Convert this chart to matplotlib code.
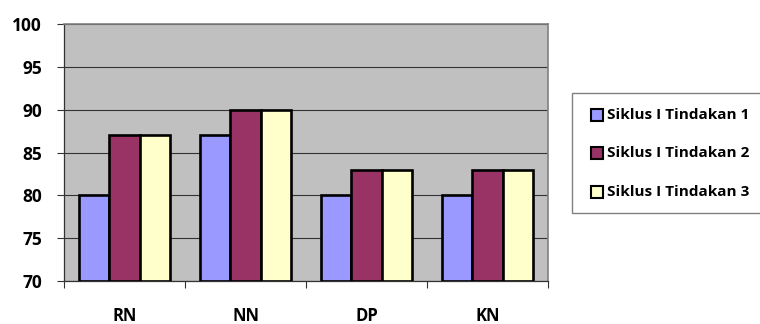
import matplotlib
matplotlib.use("Agg")
import matplotlib.pyplot as plt
import numpy as np
from matplotlib.patches import Rectangle

categories = ["RN", "NN", "DP", "KN"]
series_names = ["Siklus I Tindakan 1", "Siklus I Tindakan 2", "Siklus I Tindakan 3"]
tindakan1 = [80, 87, 80, 80]
tindakan2 = [87, 90, 83, 83]
tindakan3 = [87, 90, 83, 83]
yticks = [70, 75, 80, 85, 90, 95, 100]
colors = ["#9999FF", "#993366", "#FFFFCC"]

plt.rcParams['font.family'] = ['Open Sans', 'DejaVu Sans']

W, H = 760, 324
fig = plt.figure(figsize=(W / 100, H / 100), dpi=100)
ax = fig.add_axes([64 / W, 1 - 281 / H, 484 / W, 257 / H])
ax.set_facecolor("#C0C0C0")

x = np.arange(len(categories))
w = 0.25
for i, (vals, c, name) in enumerate(zip([tindakan1, tindakan2, tindakan3], colors, series_names)):
    ax.bar(x + (i - 1) * w, np.array(vals) - 70, bottom=70, width=w, color=c,
           edgecolor="black", linewidth=1.9, label=name, zorder=3)

ax.set_ylim(70, 100)
ax.set_xlim(-0.5, len(categories) - 0.5)
ax.set_yticks(yticks)
ax.set_yticklabels([str(t) for t in yticks], fontsize=12.5, fontweight='bold')
ax.yaxis.grid(True, color="#333333", linewidth=0.8, zorder=0)
ax.set_axisbelow(True)

ax.set_xticks(np.arange(len(categories) + 1) - 0.5)
ax.set_xticklabels([])
ax.tick_params(axis='x', length=5, width=0.8, color="#333333", direction='out')
ax.tick_params(axis='y', length=5, width=0.8, color="#333333", direction='out', pad=11)
for i, c in enumerate(categories):
    ax.text(i, -0.136, c, transform=ax.get_xaxis_transform(), ha='center', va='center',
            fontsize=12, fontweight='bold')

for s in ['left', 'bottom']:
    ax.spines[s].set_color("#333333")
    ax.spines[s].set_linewidth(0.9)
for s in ['top', 'right']:
    ax.spines[s].set_color("#808080")
    ax.spines[s].set_linewidth(1.2)

# Legend (drawn in figure pixel coordinates)
def fx(px):
    return px / W

def fy(py):
    return 1 - py / H

frame = Rectangle((fx(572), fy(213)), fx(200), (213 - 93) / H, transform=fig.transFigure,
                  facecolor="white", edgecolor="#808080", linewidth=1.0)
fig.patches.append(frame)
row_y = [115, 153, 192]
for name, c, ry in zip(series_names, colors, row_y):
    sq = Rectangle((fx(591), fy(ry + 6)), 12 / W, 12 / H, transform=fig.transFigure,
                   facecolor=c, edgecolor="black", linewidth=1.5)
    fig.patches.append(sq)
    fig.text(fx(607), fy(ry), name, ha='left', va='center', fontsize=11, fontweight='bold')

fig.savefig("out.png", dpi=100, facecolor="white")
